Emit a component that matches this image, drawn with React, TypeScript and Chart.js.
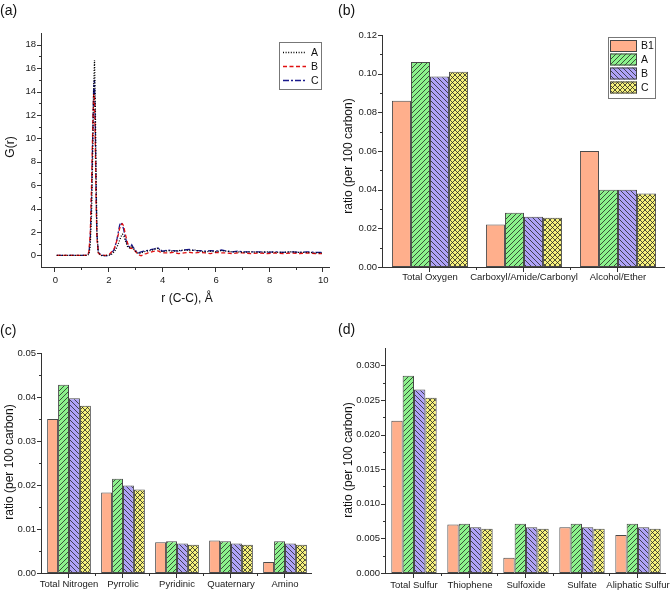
import React, { useEffect, useRef } from "react";
import { Chart, registerables } from "chart.js";
Chart.register(...registerables);

const FONT = "'Liberation Sans', Arial, Helvetica, sans-serif";

// ---------------- Panel (a): G(r) ----------------
const rValues = [0.05, 0.3, 0.6, 0.9, 1.2, 1.25, 1.3, 1.35, 1.4, 1.43, 1.46, 1.49, 1.52, 1.55, 1.6, 1.7, 1.8, 1.9, 2.0, 2.1, 2.2, 2.3, 2.4, 2.45, 2.5, 2.55, 2.6, 2.7, 2.8, 2.85, 2.9, 3.0, 3.1, 3.2, 3.3, 3.4, 3.5, 3.6, 3.7, 3.8, 3.85, 3.9, 4.0, 4.2, 4.4, 4.6, 4.8, 5.0, 5.2, 5.4, 5.6, 5.8, 6.0, 6.2, 6.4, 6.6, 6.8, 7.0, 7.3, 7.6, 7.9, 8.2, 8.5, 8.8, 9.1, 9.4, 9.7, 9.95];
const gA = [0, 0, 0, 0, 0, 0.1, 0.8, 3.5, 9.5, 14.5, 16.7, 13.0, 6.5, 2.0, 0.2, 0, -0.05, 0, 0, 0.1, 0.3, 0.7, 1.3, 1.6, 1.8, 1.7, 1.3, 0.7, 0.6, 0.8, 0.6, 0.3, 0.15, 0.2, 0.3, 0.35, 0.4, 0.45, 0.5, 0.6, 0.55, 0.45, 0.3, 0.4, 0.35, 0.4, 0.45, 0.4, 0.45, 0.35, 0.3, 0.35, 0.3, 0.4, 0.35, 0.3, 0.3, 0.25, 0.3, 0.25, 0.3, 0.25, 0.25, 0.3, 0.25, 0.25, 0.2, 0.2];
const gB = [0, 0, 0, 0, 0, 0.3, 1.8, 6.0, 11.5, 13.8, 13.5, 9.5, 4.5, 1.5, 0.2, 0, 0, 0, 0.05, 0.3, 0.6, 1.3, 2.3, 2.6, 2.7, 2.5, 1.9, 1.0, 0.6, 0.6, 0.55, 0.3, 0.05, -0.05, 0.1, 0.15, 0.25, 0.3, 0.35, 0.4, 0.35, 0.3, 0.2, 0.2, 0.25, 0.15, 0.2, 0.25, 0.2, 0.25, 0.2, 0.15, 0.25, 0.2, 0.2, 0.15, 0.2, 0.2, 0.15, 0.2, 0.15, 0.2, 0.15, 0.2, 0.15, 0.2, 0.15, 0.15];
const gC = [0, 0, 0, 0, 0, 0.2, 1.4, 5.0, 11.0, 14.5, 15.0, 11.0, 5.5, 1.8, 0.3, 0, 0, -0.05, 0, 0.2, 0.5, 1.4, 2.6, 2.8, 2.6, 2.2, 1.6, 0.8, 0.7, 0.9, 0.7, 0.4, 0.2, 0.3, 0.35, 0.4, 0.45, 0.5, 0.55, 0.65, 0.6, 0.5, 0.35, 0.45, 0.4, 0.35, 0.45, 0.5, 0.4, 0.4, 0.35, 0.4, 0.35, 0.45, 0.35, 0.3, 0.35, 0.3, 0.3, 0.3, 0.25, 0.3, 0.25, 0.3, 0.25, 0.3, 0.25, 0.25];
const gNames = ["A", "B", "C"];
const gTicksY = [0, 2, 4, 6, 8, 10, 12, 14, 16, 18];
const gMinorY = [1, 3, 5, 7, 9, 11, 13, 15, 17];
const gTicksX = [0, 2, 4, 6, 8, 10];
const gMinorX = [1, 3, 5, 7, 9];

// ---------------- Bar panels ----------------
const seriesNames = ["B1", "A", "B", "C"];

const oxygenCats = ["Total Oxygen", "Carboxyl/Amide/Carbonyl", "Alcohol/Ether"];
const oxygenB1 = [0.086, 0.022, 0.06];
const oxygenA = [0.106, 0.028, 0.04];
const oxygenB = [0.0985, 0.026, 0.04];
const oxygenC = [0.101, 0.0255, 0.038];
const oxygenTicks = [0, 0.02, 0.04, 0.06, 0.08, 0.1, 0.12];
const oxygenMinor = [0.01, 0.03, 0.05, 0.07, 0.09, 0.11];

const nitrogenCats = ["Total Nitrogen", "Pyrrolic", "Pyridinic", "Quaternary", "Amino"];
const nitrogenB1 = [0.035, 0.0183, 0.007, 0.0074, 0.0025];
const nitrogenA = [0.0428, 0.0214, 0.0072, 0.0072, 0.0072];
const nitrogenB = [0.0397, 0.0199, 0.0067, 0.0067, 0.0067];
const nitrogenC = [0.038, 0.019, 0.0064, 0.0064, 0.0064];
const nitrogenTicks = [0, 0.01, 0.02, 0.03, 0.04, 0.05];
const nitrogenMinor = [0.005, 0.015, 0.025, 0.035, 0.045];

const sulfurCats = ["Total Sulfur", "Thiophene", "Sulfoxide", "Sulfate", "Aliphatic Sulfur"];
const sulfurB1 = [0.022, 0.007, 0.0022, 0.0066, 0.0055];
const sulfurA = [0.0285, 0.0071, 0.0071, 0.0071, 0.0071];
const sulfurB = [0.0265, 0.0066, 0.0066, 0.0066, 0.0066];
const sulfurC = [0.0253, 0.0064, 0.0064, 0.0064, 0.0064];
const sulfurTicks = [0, 0.005, 0.01, 0.015, 0.02, 0.025, 0.03];
const sulfurMinor = [0.0025, 0.0075, 0.0125, 0.0175, 0.0225, 0.0275];

// ---------------- helpers ----------------
function makePattern(kind: string): CanvasPattern | string {
  const s = 5;
  const c = document.createElement("canvas");
  c.width = s;
  c.height = s;
  const g = c.getContext("2d")!;
  const bg: Record<string, string> = { B1: "#FFAF8C", A: "#8CF28C", B: "#AFA3F7", C: "#F7F27C" };
  g.fillStyle = bg[kind];
  g.fillRect(0, 0, s, s);
  if (kind === "B1") return g.createPattern(c, "repeat")!;
  g.strokeStyle = "rgba(30,30,30,0.85)";
  g.lineWidth = 0.9;
  g.beginPath();
  if (kind === "A" || kind === "C") {
    g.moveTo(-1, s + 1); g.lineTo(s + 1, -1);
    g.moveTo(-1, 1); g.lineTo(1, -1);
    g.moveTo(s - 1, s + 1); g.lineTo(s + 1, s - 1);
  }
  if (kind === "B" || kind === "C") {
    g.moveTo(-1, -1); g.lineTo(s + 1, s + 1);
    g.moveTo(s - 1, -1); g.lineTo(s + 1, 1);
    g.moveTo(-1, s - 1); g.lineTo(1, s + 1);
  }
  g.stroke();
  return g.createPattern(c, "repeat")!;
}

const decorPlugin = {
  id: "decor",
  afterDraw(chart: any, _args: any, o: any) {
    const { ctx, chartArea: a } = chart;
    const xs = chart.scales.x;
    const ys = chart.scales.y;
    ctx.save();
    ctx.strokeStyle = "#333";
    ctx.lineWidth = 1;
    ctx.setLineDash([]);
    const ax = Math.round(a.left) - 0.5;
    const ay = Math.round(a.bottom) + 0.5;
    ctx.beginPath();
    ctx.moveTo(ax, Math.round(a.top));
    ctx.lineTo(ax, ay + 0.5);
    ctx.moveTo(ax - 0.5, ay);
    ctx.lineTo(Math.round(a.right), ay);
    for (const v of o.yMajor) {
      const p = Math.round(ys.getPixelForValue(v)) + 0.5;
      ctx.moveTo(ax - 4.5, p);
      ctx.lineTo(ax, p);
    }
    for (const v of o.yMinor) {
      const p = Math.round(ys.getPixelForValue(v)) + 0.5;
      ctx.moveTo(ax - 2.5, p);
      ctx.lineTo(ax, p);
    }
    for (const v of o.xMajor) {
      const p = Math.round(xs.getPixelForValue(v)) - 0.5;
      ctx.moveTo(p, ay);
      ctx.lineTo(p, ay + 4.5);
    }
    for (const v of o.xMinor) {
      const p = Math.round(xs.getPixelForValue(v)) - 0.5;
      ctx.moveTo(p, ay);
      ctx.lineTo(p, ay + 2.5);
    }
    ctx.stroke();

    const L = o.legend;
    if (L) {
      const [x1, y1, x2, y2] = L.box;
      ctx.fillStyle = "#fff";
      ctx.fillRect(x1, y1, x2 - x1, y2 - y1);
      ctx.strokeStyle = "#777";
      ctx.strokeRect(x1 + 0.5, y1 + 0.5, x2 - x1, y2 - y1);
      ctx.font = `10.5px ${FONT}`;
      ctx.textBaseline = "middle";
      ctx.textAlign = "left";
      L.items.forEach((it: any, i: number) => {
        const y = L.rows[i];
        if (it.kind === "line") {
          ctx.strokeStyle = it.color;
          ctx.lineWidth = 1.3;
          ctx.setLineDash(it.dash);
          ctx.beginPath();
          ctx.moveTo(L.sx1, y + 0.5);
          ctx.lineTo(L.sx2, y + 0.5);
          ctx.stroke();
          ctx.setLineDash([]);
        } else {
          ctx.fillStyle = it.fill;
          ctx.fillRect(L.sx1, y - 5.5, L.sx2 - L.sx1, 12);
          ctx.strokeStyle = "#444";
          ctx.lineWidth = 1;
          ctx.strokeRect(L.sx1 + 0.5, y - 5, L.sx2 - L.sx1 - 1, 11);
        }
        ctx.fillStyle = "#111";
        ctx.fillText(it.label, L.tx, y + 1);
      });
    }
    ctx.restore();
  },
};

const tickFont = { size: 9.5, family: FONT };

function yScale(ticks: number[], min: number, max: number, width: number, dec: number) {
  return {
    type: "linear",
    position: "left",
    min,
    max,
    grid: { display: false, drawTicks: false },
    border: { display: false },
    ticks: {
      font: tickFont,
      color: "#1a1a1a",
      padding: 6,
      autoSkip: false,
      callback: (v: any) => Number(v).toFixed(dec),
    },
    afterBuildTicks: (s: any) => {
      s.ticks = ticks.map((v) => ({ value: v }));
    },
    afterFit: (s: any) => {
      s.width = width;
      s.paddingTop = 0;
      s.paddingBottom = 0;
    },
  };
}

type Rect = { cx: number; cy: number; cw: number; ch: number; L: number; T: number; R: number; B: number };

function baseLayout(r: Rect) {
  return { padding: { left: 0, top: r.T - r.cy, right: r.cx + r.cw - r.R, bottom: 0 } };
}

function barConfig(r: Rect, cats: string[], vals: number[][], yt: number[], ym: number[], ymax: number, dec: number, xpad: number, legend: any) {
  const fills = seriesNames.map((n) => makePattern(n));
  const items = legend
    ? seriesNames.map((n, i) => ({ label: n, kind: "box", fill: fills[i] }))
    : null;
  return {
    type: "bar",
    data: {
      labels: cats,
      datasets: seriesNames.map((n, i) => ({
        label: n,
        data: vals[i],
        backgroundColor: fills[i],
        borderColor: "#4a4a4a",
        borderWidth: 1,
        borderSkipped: false,
        barPercentage: 1,
        categoryPercentage: 0.81,
      })),
    },
    options: {
      responsive: false,
      animation: false,
      devicePixelRatio: 1,
      events: [],
      layout: baseLayout(r),
      plugins: {
        legend: { display: false },
        tooltip: { enabled: false },
        decor: {
          yMajor: yt,
          yMinor: ym,
          xMajor: cats.map((_, i) => i),
          xMinor: cats.slice(1).map((_, i) => i + 0.5),
          legend: legend ? { ...legend, items } : null,
        },
      },
      scales: {
        x: {
          type: "category",
          grid: { display: false, drawTicks: false },
          border: { display: false },
          ticks: { font: tickFont, color: "#1a1a1a", padding: xpad, autoSkip: false, maxRotation: 0, minRotation: 0 },
          afterFit: (s: any) => {
            s.height = r.cy + r.ch - r.B;
            s.paddingLeft = 0;
            s.paddingRight = 0;
          },
        },
        y: yScale(yt, 0, ymax, r.L - r.cx, dec),
      },
    },
    plugins: [decorPlugin],
  };
}

const rectA: Rect = { cx: 0, cy: 0, cw: 335, ch: 292, L: 42, T: 33, R: 330, B: 267 };
const rectB: Rect = { cx: 335, cy: 0, cw: 336, ch: 292, L: 383, T: 35, R: 665, B: 267 };
const rectC: Rect = { cx: 0, cy: 300, cw: 335, ch: 292, L: 42, T: 353, R: 312, B: 573 };
const rectD: Rect = { cx: 335, cy: 300, cw: 336, ch: 292, L: 386, T: 348, R: 666, B: 573 };

function configA() {
  const colors = ["#000000", "#E01010", "#1A1A8C"];
  const dashes = [[1, 1.6], [4, 2.5], [6, 2, 2, 2]];
  const series = [gA, gB, gC];
  return {
    type: "line",
    data: {
      datasets: gNames.map((n, i) => ({
        label: n,
        data: rValues.map((x, k) => ({ x, y: series[i][k] })),
        borderColor: colors[i],
        borderWidth: 1.3,
        borderDash: dashes[i],
        pointRadius: 0,
        tension: 0,
        fill: false,
      })),
    },
    options: {
      responsive: false,
      animation: false,
      devicePixelRatio: 1,
      events: [],
      layout: baseLayout(rectA),
      plugins: {
        legend: { display: false },
        tooltip: { enabled: false },
        decor: {
          yMajor: gTicksY,
          yMinor: gMinorY,
          xMajor: gTicksX,
          xMinor: gMinorX,
          legend: {
            box: [279, 42, 321, 89],
            rows: [52, 66, 80],
            sx1: 283,
            sx2: 306,
            tx: 311,
            items: gNames.map((n, i) => ({ label: n, kind: "line", color: colors[i], dash: dashes[i] })),
          },
        },
      },
      scales: {
        x: {
          type: "linear",
          min: -0.5,
          max: 10.25,
          grid: { display: false, drawTicks: false },
          border: { display: false },
          ticks: { font: tickFont, color: "#1a1a1a", padding: 8, autoSkip: false, maxRotation: 0, callback: (v: any) => String(v) },
          afterBuildTicks: (s: any) => {
            s.ticks = gTicksX.map((v) => ({ value: v }));
          },
          afterFit: (s: any) => {
            s.height = rectA.cy + rectA.ch - rectA.B;
            s.paddingLeft = 0;
            s.paddingRight = 0;
          },
        },
        y: yScale(gTicksY, -1, 19, rectA.L - rectA.cx, 0),
      },
    },
    plugins: [decorPlugin],
  };
}

function configB() {
  return barConfig(rectB, oxygenCats, [oxygenB1, oxygenA, oxygenB, oxygenC], oxygenTicks, oxygenMinor, 0.12, 2, 5, {
    box: [273, 37, 320, 98],
    rows: [45.5, 59, 73, 87],
    sx1: 275,
    sx2: 302,
    tx: 306,
  });
}
function configC() {
  return barConfig(rectC, nitrogenCats, [nitrogenB1, nitrogenA, nitrogenB, nitrogenC], nitrogenTicks, nitrogenMinor, 0.05, 2, 6, null);
}
function configD() {
  return barConfig(rectD, sulfurCats, [sulfurB1, sulfurA, sulfurB, sulfurC], sulfurTicks, sulfurMinor, 0.0325, 3, 7, null);
}

function Panel({ rect, make }: { rect: Rect; make: () => any }) {
  const ref = useRef<HTMLCanvasElement>(null);
  useEffect(() => {
    const chart = new Chart(ref.current as HTMLCanvasElement, make());
    return () => chart.destroy();
  }, []);
  return (
    <canvas
      ref={ref}
      width={rect.cw}
      height={rect.ch}
      style={{ position: "absolute", left: rect.cx, top: rect.cy, width: rect.cw, height: rect.ch }}
    />
  );
}

const txt: React.CSSProperties = {
  position: "absolute",
  fontFamily: FONT,
  color: "#111",
  whiteSpace: "nowrap",
  lineHeight: 1,
};

function Label({ x, y, size, text }: { x: number; y: number; size: number; text: string }) {
  return <div style={{ ...txt, left: x, top: y, fontSize: size }}>{text}</div>;
}
function CenterText({ x, y, size, text, rotate }: { x: number; y: number; size: number; text: string; rotate?: boolean }) {
  return (
    <div
      style={{
        ...txt,
        left: x,
        top: y,
        fontSize: size,
        transform: `translate(-50%, -50%)${rotate ? " rotate(-90deg)" : ""}`,
      }}
    >
      {text}
    </div>
  );
}

export default function App() {
  return (
    <div style={{ position: "absolute", left: 0, top: 0, width: 671, height: 592, background: "#fff", overflow: "hidden" }}>
      <Panel rect={rectA} make={configA} />
      <Panel rect={rectB} make={configB} />
      <Panel rect={rectC} make={configC} />
      <Panel rect={rectD} make={configD} />
      <Label x={0} y={3} size={14} text="(a)" />
      <Label x={338} y={3} size={14} text="(b)" />
      <Label x={0} y={323} size={14} text="(c)" />
      <Label x={338} y={322} size={14} text="(d)" />
      <CenterText x={10} y={147} size={12} text="G(r)" rotate />
      <CenterText x={187} y={298} size={12} text="r (C-C), Å" />
      <CenterText x={348} y={156} size={12} text="ratio (per 100 carbon)" rotate />
      <CenterText x={9} y={462} size={12} text="ratio (per 100 carbon)" rotate />
      <CenterText x={348} y={460} size={12} text="ratio (per 100 carbon)" rotate />
    </div>
  );
}
